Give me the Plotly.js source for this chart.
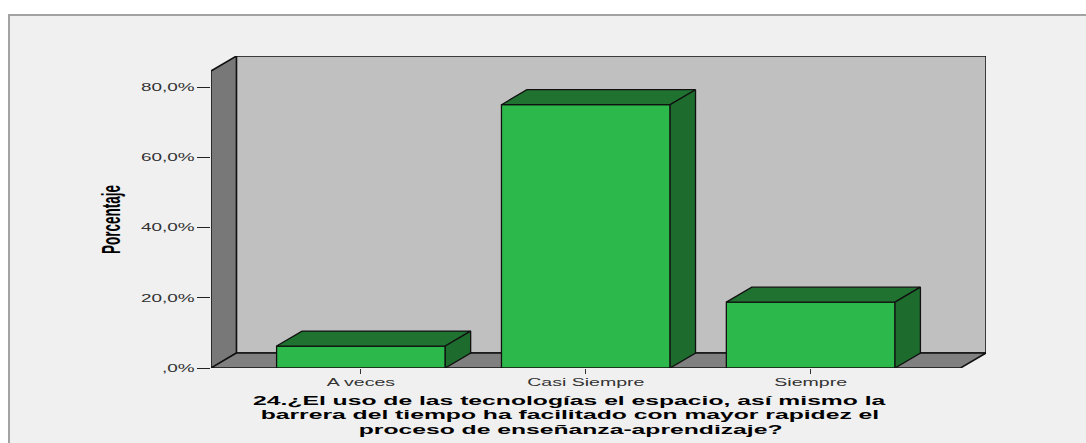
<!DOCTYPE html>
<html>
<head>
<meta charset="utf-8">
<script src="https://cdn.plot.ly/plotly-3.0.1.min.js"></script>
<style>
  html, body { margin: 0; padding: 0; background: #ffffff; }
  #chart { width: 1086px; height: 443px; }
</style>
</head>
<body>
<div id="chart"></div>
<script>
// ---- data ----
const categories = ["A veces", "Casi Siempre", "Siempre"];
const percentages = [6.25, 75.0, 18.75];
const yTickValues = [0, 20, 40, 60, 80];
const yTickLabels = [",0%", "20,0%", "40,0%", "60,0%", "80,0%"];
const yAxisTitle = "Porcentaje";
const xAxisTitleLines = [
  "24.¿El uso de las tecnologías el espacio, así mismo la",
  "barrera del tiempo ha facilitado con mayor rapidez el",
  "proceso de enseñanza-aprendizaje?"
];

// ---- pseudo-3D geometry (axis units) ----
const DX = 0.113;     // depth along x (category units)
const DY = 4.27;      // depth along y (percent units)
const BAR_W = 0.75;
const X_PAD = 2 / 3;
const WALL_TOP = 84.6;

const xs = categories.map((c, i) => i);
const xLeft = -X_PAD;
const xRight = categories.length - 1 + X_PAD;

const topX = [], topY = [], sideX = [], sideY = [];
xs.forEach((x, i) => {
  const v = percentages[i];
  const a = x - BAR_W / 2, b = x + BAR_W / 2;
  topX.push(a, a + DX, b + DX, b, a, null);
  topY.push(v, v + DY, v + DY, v, v, null);
  sideX.push(b, b + DX, b + DX, b, b, null);
  sideY.push(0, DY, v + DY, v, 0, null);
});

const FONT = "Liberation Sans, Arial, Helvetica, sans-serif";
const EDGE = "#111111";

const traces = [
  {
    type: "bar", x: xs, y: percentages, width: BAR_W,
    marker: { color: "#2db84b", line: { color: EDGE, width: 1.3 } },
    hoverinfo: "skip", showlegend: false
  },
  {
    type: "scatter", mode: "lines", x: topX, y: topY, fill: "toself",
    fillcolor: "#1f7230", line: { color: EDGE, width: 1.3 },
    hoverinfo: "skip", showlegend: false
  },
  {
    type: "scatter", mode: "lines", x: sideX, y: sideY, fill: "toself",
    fillcolor: "#1d6b2d", line: { color: EDGE, width: 1.3 },
    hoverinfo: "skip", showlegend: false
  }
];

const PL = 211, PT = 56, PW = 775, PH = 312;
const px = X => (X - PL) / PW;           // pixel -> paper x
const py = Y => (PT + PH - Y) / PH;      // pixel -> paper y

const shapes = [
  // outer frame
  { type: "rect", xref: "paper", yref: "paper", layer: "below",
    x0: px(9), x1: px(1100), y0: py(460), y1: py(15),
    fillcolor: "#f0f0f0", line: { color: "#a3a3a3", width: 2 } },
  // back wall
  { type: "rect", xref: "x", yref: "y", layer: "below",
    x0: xLeft + DX, x1: xRight + DX, y0: DY, y1: WALL_TOP + DY,
    fillcolor: "#c0c0c0", line: { color: EDGE, width: 1.5 } },
  // left wall
  { type: "path", xref: "x", yref: "y", layer: "below",
    path: `M ${xLeft},0 L ${xLeft},${WALL_TOP} L ${xLeft + DX},${WALL_TOP + DY} L ${xLeft + DX},${DY} Z`,
    fillcolor: "#787878", line: { color: EDGE, width: 1.5 } },
  // floor
  { type: "path", xref: "x", yref: "y", layer: "below",
    path: `M ${xLeft},0 L ${xLeft + DX},${DY} L ${xRight + DX},${DY} L ${xRight},0 Z`,
    fillcolor: "#808080", line: { color: EDGE, width: 1.5 } }
];

const titleY = [400, 414.5, 429];
const annotations = [
  { text: yAxisTitle, xref: "paper", yref: "paper", x: px(112), y: py(219),
    textangle: -90, showarrow: false, xanchor: "center", yanchor: "middle",
    font: { family: FONT, size: 13.5, color: "#000000", weight: "bold" } }
].concat(xAxisTitleLines.map((t, i) => ({
  text: t, xref: "paper", yref: "paper", x: px(570), y: py(titleY[i]),
  showarrow: false, xanchor: "center", yanchor: "middle",
  font: { family: FONT, size: 13, color: "#000000", weight: "bold" }
})));

const layout = {
  width: 1086, height: 443,
  margin: { l: PL, r: 1086 - PL - PW, t: PT, b: 443 - PT - PH, pad: 0 },
  paper_bgcolor: "#ffffff",
  plot_bgcolor: "rgba(0,0,0,0)",
  showlegend: false,
  xaxis: {
    range: [xLeft, xRight + DX], tickvals: xs, ticktext: categories,
    showgrid: false, zeroline: false, showline: false,
    ticks: "outside", ticklen: 5, tickwidth: 1, tickcolor: "#333333",
    ticklabelstandoff: -2,
    tickfont: { family: FONT, size: 11.5, color: "#333333" }, fixedrange: true
  },
  yaxis: {
    range: [0, WALL_TOP + DY], tickvals: yTickValues, ticktext: yTickLabels,
    showgrid: false, zeroline: false, showline: false,
    ticks: "outside", ticklen: 13, tickwidth: 1, tickcolor: "#222222",
    tickfont: { family: FONT, size: 11, color: "#333333" }, fixedrange: true
  },
  shapes: shapes,
  annotations: annotations
};

function stretch(el, s, mode) {
  const bb = el.getBBox();
  const prev = el.getAttribute("transform") || "";
  let t;
  if (mode === "right") {
    const r = bb.x + bb.width;
    t = ` translate(${r},0) scale(${s},1) translate(${-r},0)`;
  } else if (mode === "center") {
    const c = bb.x + bb.width / 2;
    t = ` translate(${c},0) scale(${s},1) translate(${-c},0)`;
  } else {
    const c = bb.y + bb.height / 2;
    t = ` translate(0,${c}) scale(1,${s}) translate(0,${-c})`;
  }
  el.setAttribute("transform", prev + t);
}

const gd = document.getElementById("chart");
Plotly.newPlot(gd, traces, layout, { displayModeBar: false, staticPlot: true }).then(() => {
  gd.querySelectorAll(".ytick text").forEach(el => stretch(el, 1.72, "right"));
  gd.querySelectorAll(".xtick text").forEach(el => stretch(el, 1.7, "center"));
  const anns = gd.querySelectorAll(".annotation .annotation-text");
  anns.forEach((el, i) => {
    if (i === 0) stretch(el, 1.85, "vertical");
    else stretch(el, 1.9, "center");
  });
});
</script>
</body>
</html>
